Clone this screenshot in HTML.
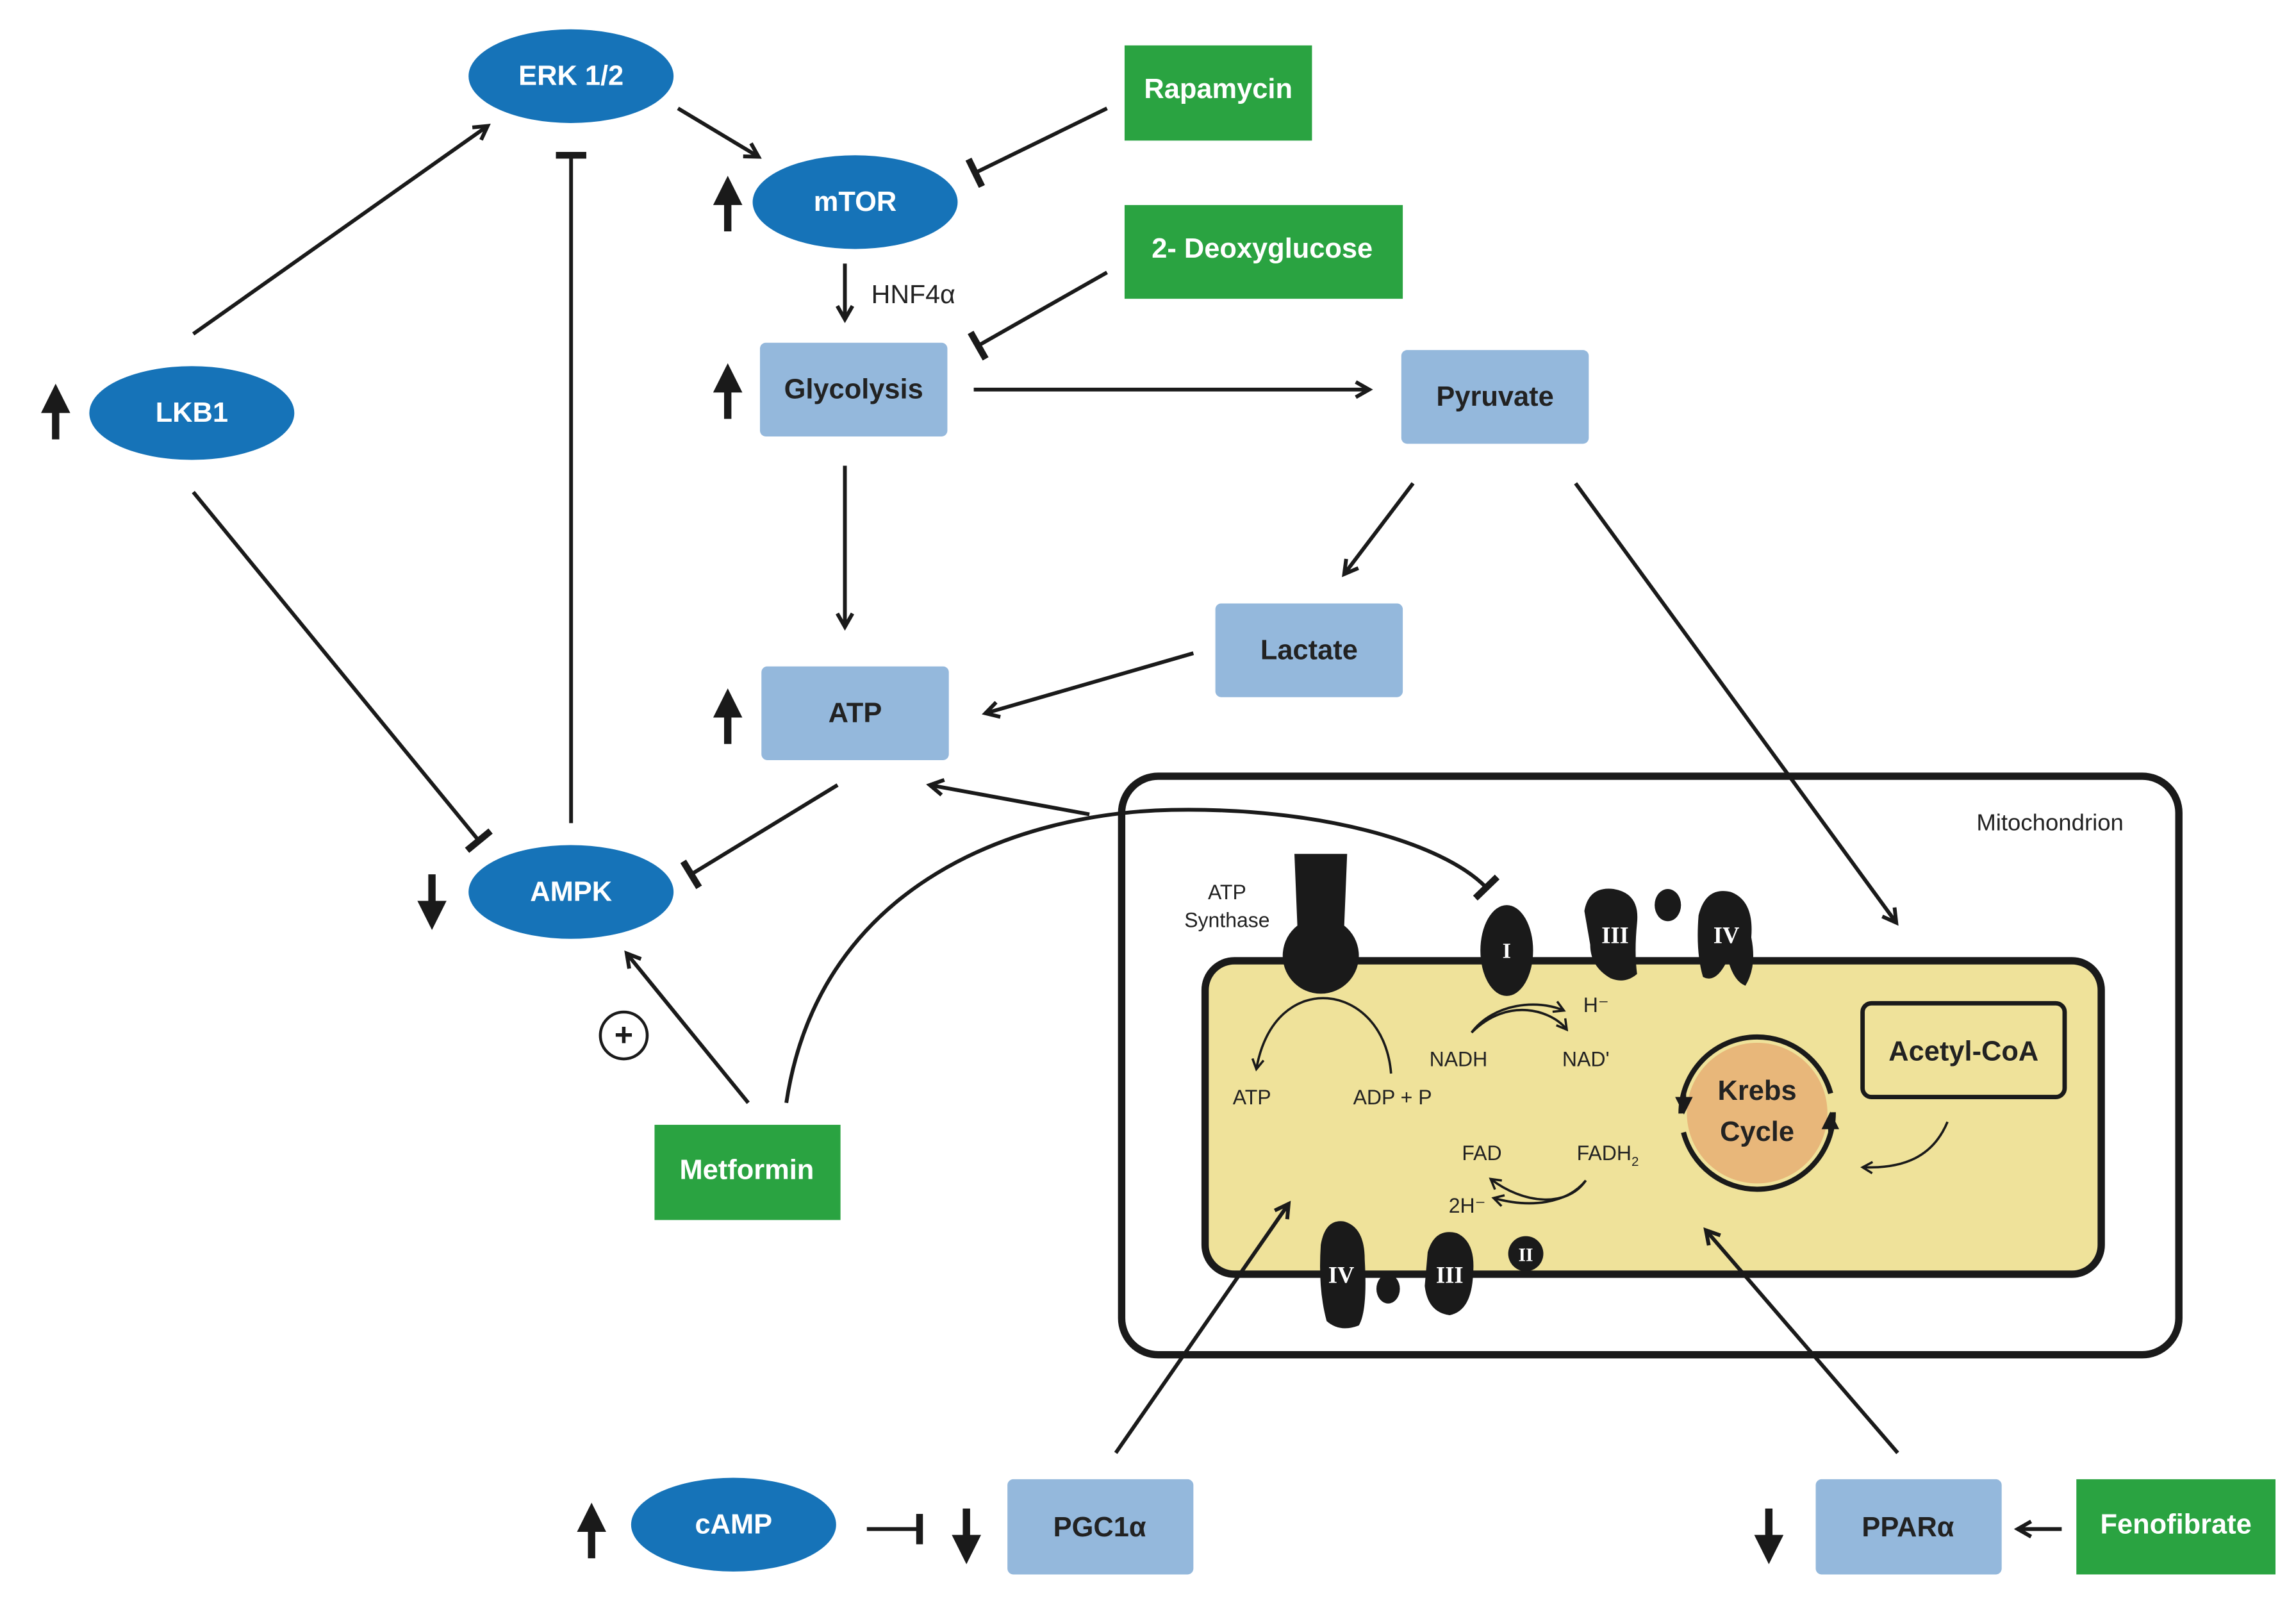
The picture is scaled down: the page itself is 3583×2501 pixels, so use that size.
<!DOCTYPE html>
<html><head><meta charset="utf-8"><style>
html,body{margin:0;padding:0;background:#fff}
svg{display:block}
text{font-family:"Liberation Sans",sans-serif}
text.r{font-family:"Liberation Serif",serif;font-weight:bold;fill:#fff;text-anchor:middle}
.b{font-weight:bold;font-size:19px;fill:#fff;text-anchor:middle}
.d{font-weight:bold;font-size:19px;fill:#222;text-anchor:middle}
.s{font-size:14px;fill:#222;text-anchor:middle}
.l{stroke:#1a1a1a;stroke-width:2.6;fill:none}
.t{stroke:#1a1a1a;stroke-width:1.6;fill:none}
</style></head><body>
<svg width="3583" height="2501" viewBox="0 0 1568 1094.5" preserveAspectRatio="none" xmlns="http://www.w3.org/2000/svg">
<defs>
<marker id="a" viewBox="0 0 10 10" refX="8" refY="5" markerWidth="5" markerHeight="5" orient="auto"><path d="M1,1 L8,5 L1,9" fill="none" stroke="#1a1a1a" stroke-width="2"/></marker>
<marker id="sm" viewBox="0 0 10 10" refX="8" refY="5" markerWidth="6" markerHeight="6" orient="auto"><path d="M1,1 L8,5 L1,9" fill="none" stroke="#1a1a1a" stroke-width="1.6"/></marker>
<marker id="tb" viewBox="0 0 10 10" refX="5" refY="5" markerWidth="8" markerHeight="8" orient="auto"><path d="M5,0 L5,10" stroke="#1a1a1a" stroke-width="2.2"/></marker>
<marker id="big" viewBox="0 0 10 10" refX="5" refY="5" markerWidth="4" markerHeight="4" orient="auto"><path d="M0,0 L10,5 L0,10 Z" fill="#1a1a1a"/></marker>
</defs>
<rect width="1568" height="1094.5" fill="#fff"/>

<rect x="766" y="530" width="722" height="395" rx="25" fill="#fff" stroke="#1a1a1a" stroke-width="5"/>
<text x="1400" y="567" font-size="16" fill="#222" text-anchor="middle">Mitochondrion</text>
<rect x="823" y="656" width="612" height="214" rx="20" fill="#efe29a" stroke="#1a1a1a" stroke-width="5"/>
<path d="M884,583 L920,583 L918,632 A26,26 0 1 1 886,632 Z" fill="#1a1a1a"/>
<text x="838" y="614" class="s">ATP</text><text x="838" y="633" class="s">Synthase</text>
<ellipse cx="1029" cy="649" rx="18" ry="31" fill="#1a1a1a"/>
<text x="1029" y="654" class="r" style="font-family:'Liberation Serif',serif;font-size:15px">I</text>
<path d="M1082,622 Q1085,605 1102,607 Q1120,610 1118,630 Q1116,650 1118,665 Q1110,672 1100,668 Q1086,660 1086,645 Z" fill="#1a1a1a"/>
<text x="1103" y="644" class="r" style="font-family:'Liberation Serif',serif;font-size:16px">III</text>
<ellipse cx="1139" cy="618" rx="9" ry="11" fill="#1a1a1a"/>
<path d="M1160,625 Q1165,605 1182,609 Q1198,615 1196,640 Q1200,660 1192,673 Q1184,670 1180,655 Q1172,672 1163,667 Q1158,650 1160,625 Z" fill="#1a1a1a"/>
<text x="1179" y="644" class="r" style="font-family:'Liberation Serif',serif;font-size:16px">IV</text>
<path d="M902,850 Q905,832 918,834 Q932,838 932,860 Q934,895 928,905 Q915,910 906,902 Q900,880 902,850 Z" fill="#1a1a1a"/>
<text x="916" y="876" class="r" style="font-family:'Liberation Serif',serif;font-size:16px">IV</text>
<ellipse cx="948" cy="880" rx="8" ry="10" fill="#1a1a1a"/>
<path d="M975,855 Q980,838 995,842 Q1008,848 1006,870 Q1005,895 990,898 Q975,896 973,878 Z" fill="#1a1a1a"/>
<text x="990" y="876" class="r" style="font-family:'Liberation Serif',serif;font-size:16px">III</text>
<circle cx="1042" cy="856" r="12" fill="#1a1a1a"/>
<text x="1042" y="861" class="r" style="font-family:'Liberation Serif',serif;font-size:13px">II</text>
<path d="M950,733 C945,670 870,660 858,730" class="t" marker-end="url(#sm)"/>
<text x="855" y="754" class="s">ATP</text><text x="951" y="754" class="s">ADP + P</text>
<path d="M1005,705 C1020,685 1050,682 1068,690" class="t" marker-end="url(#sm)"/>
<path d="M1005,705 C1030,680 1060,690 1070,703" class="t" marker-end="url(#sm)"/>
<text x="1090" y="691" class="s">H⁻</text>
<text x="996" y="728" class="s">NADH</text><text x="1083" y="728" class="s">NAD'</text>
<text x="1012" y="792" class="s">FAD</text><text x="1098" y="792" class="s">FADH<tspan font-size="9" dy="4">2</tspan></text>
<path d="M1083,806 C1070,825 1040,822 1018,805" class="t" marker-end="url(#sm)"/>
<path d="M1083,806 C1070,822 1045,825 1020,818" class="t" marker-end="url(#sm)"/>
<text x="1002" y="828" class="s">2H⁻</text>
<circle cx="1200" cy="760" r="48" fill="#e8b77a"/>
<circle cx="1200" cy="760" r="52" fill="none" stroke="#1a1a1a" stroke-width="3.5" stroke-dasharray="150 13 150 13"/>
<path d="M1150,745 L1150,755" stroke="#1a1a1a" stroke-width="3" marker-end="url(#big)"/>
<path d="M1250,775 L1250,765" stroke="#1a1a1a" stroke-width="3" marker-end="url(#big)"/>
<text x="1200" y="751" class="d" font-size="20">Krebs</text>
<text x="1200" y="779" class="d" font-size="20">Cycle</text>
<rect x="1272" y="685" width="138" height="64" rx="6" fill="none" stroke="#1a1a1a" stroke-width="3"/>
<text x="1341" y="724" class="d" font-size="20">Acetyl-CoA</text>
<path d="M1330,766 C1320,790 1300,798 1272,797" class="t" marker-end="url(#sm)"/>

<g fill="#1673b8">
<ellipse cx="390" cy="52" rx="70" ry="32"/><ellipse cx="584" cy="138" rx="70" ry="32"/>
<ellipse cx="131" cy="282" rx="70" ry="32"/><ellipse cx="390" cy="609" rx="70" ry="32"/>
<ellipse cx="501" cy="1041" rx="70" ry="32"/>
</g>
<text x="390" y="58" class="b">ERK 1/2</text><text x="584" y="144" class="b">mTOR</text>
<text x="131" y="288" class="b">LKB1</text><text x="390" y="615" class="b">AMPK</text>
<text x="501" y="1047" class="b">cAMP</text>
<g fill="#94b8dc">
<rect x="519" y="234" width="128" height="64" rx="4"/><rect x="957" y="239" width="128" height="64" rx="4"/>
<rect x="830" y="412" width="128" height="64" rx="4"/><rect x="520" y="455" width="128" height="64" rx="4"/>
<rect x="688" y="1010" width="127" height="65" rx="4"/><rect x="1240" y="1010" width="127" height="65" rx="4"/>
</g>
<text x="583" y="272" class="d">Glycolysis</text><text x="1021" y="277" class="d">Pyruvate</text>
<text x="894" y="450" class="d">Lactate</text><text x="584" y="493" class="d">ATP</text>
<text x="751" y="1049" class="d">PGC1α</text><text x="1303" y="1049" class="d">PPARα</text>
<g fill="#2aa341">
<rect x="768" y="31" width="128" height="65"/><rect x="768" y="140" width="190" height="64"/>
<rect x="447" y="768" width="127" height="65"/><rect x="1418" y="1010" width="136" height="65"/>
</g>
<text x="832" y="67" class="b">Rapamycin</text><text x="862" y="176" class="b">2- Deoxyglucose</text>
<text x="510" y="805" class="b">Metformin</text><text x="1486" y="1047" class="b">Fenofibrate</text>

<g stroke="#1a1a1a" stroke-width="5">
<line x1="38" y1="300" x2="38" y2="272" marker-end="url(#big)"/>
<line x1="497" y1="158" x2="497" y2="130" marker-end="url(#big)"/>
<line x1="497" y1="286" x2="497" y2="258" marker-end="url(#big)"/>
<line x1="497" y1="508" x2="497" y2="480" marker-end="url(#big)"/>
<line x1="295" y1="597" x2="295" y2="625" marker-end="url(#big)"/>
<line x1="404" y1="1064" x2="404" y2="1036" marker-end="url(#big)"/>
<line x1="660" y1="1030" x2="660" y2="1058" marker-end="url(#big)"/>
<line x1="1208" y1="1030" x2="1208" y2="1058" marker-end="url(#big)"/>
</g>

<line x1="132" y1="228" x2="333" y2="86" class="l" marker-end="url(#a)"/>
<line x1="463" y1="74" x2="518" y2="107" class="l" marker-end="url(#a)"/>
<line x1="390" y1="562" x2="390" y2="106" class="l" marker-end="url(#tb)"/>
<line x1="756" y1="74" x2="666" y2="118" class="l" marker-end="url(#tb)"/>
<line x1="756" y1="186" x2="668" y2="236" class="l" marker-end="url(#tb)"/>
<line x1="577" y1="180" x2="577" y2="218" class="l" stroke-width="1.8" marker-end="url(#a)"/>
<text x="595" y="207" font-size="18" fill="#222">HNF4α</text>
<line x1="665" y1="266" x2="935" y2="266" class="l" marker-end="url(#a)"/>
<line x1="577" y1="318" x2="577" y2="428" class="l" marker-end="url(#a)"/>
<line x1="965" y1="330" x2="918" y2="392" class="l" marker-end="url(#a)"/>
<line x1="815" y1="446" x2="673" y2="487" class="l" marker-end="url(#a)"/>
<line x1="1076" y1="330" x2="1295" y2="630" class="l" marker-end="url(#a)"/>
<line x1="132" y1="336" x2="327" y2="574" class="l" marker-end="url(#tb)"/>
<line x1="572" y1="536" x2="472" y2="597" class="l" marker-end="url(#tb)"/>
<line x1="744" y1="556" x2="635" y2="536" class="l" marker-end="url(#a)"/>
<line x1="511" y1="753" x2="428" y2="651" class="l" marker-end="url(#a)"/>
<path d="M537,753 C560,600 700,555 800,553 C900,551 985,575 1015,606" class="l" marker-end="url(#tb)"/>
<circle cx="426" cy="707" r="16" fill="#fff" stroke="#1a1a1a" stroke-width="2"/>
<text x="426" y="714" font-size="22" font-weight="bold" fill="#1a1a1a" text-anchor="middle">+</text>
<line x1="592" y1="1044" x2="628" y2="1044" class="l" marker-end="url(#tb)"/>
<line x1="762" y1="992" x2="880" y2="822" class="l" marker-end="url(#a)"/>
<line x1="1296" y1="992" x2="1165" y2="840" class="l" marker-end="url(#a)"/>
<line x1="1408" y1="1044" x2="1378" y2="1044" class="l" marker-end="url(#a)"/>
</svg>
</body></html>
